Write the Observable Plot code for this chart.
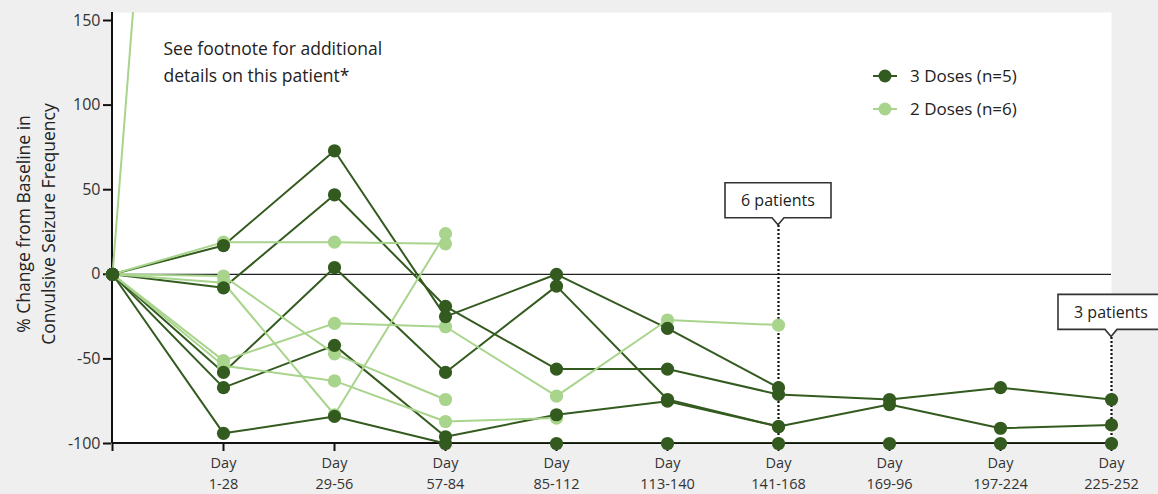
<!DOCTYPE html>
<html>
<head>
<meta charset="utf-8">
<script src="https://cdn.jsdelivr.net/npm/d3@7"></script>
<script src="https://cdn.jsdelivr.net/npm/@observablehq/plot@0.6"></script>
<style>
  html, body { margin: 0; padding: 0; background: #efefef; }
  #wrap { position: relative; width: 1158px; height: 494px; overflow: hidden; }
  #wrap svg { display: block; }
  .legend { position: absolute; left: 872px; top: 59px; font-family: "Open Sans", sans-serif; font-size: 17px; color: #222; }
  .legend .row { display: flex; align-items: center; height: 33px; }
  .legend svg { margin-right: 12px; }
</style>
</head>
<body>
<div id="wrap"></div>
<script>
// Visit windows (baseline first) and their axis labels
const days = ["Baseline", "1-28", "29-56", "57-84", "85-112", "113-140", "141-168", "169-96", "197-224", "225-252"];
const dayTickLabels = ["", "Day\n1-28", "Day\n29-56", "Day\n57-84", "Day\n85-112", "Day\n113-140", "Day\n141-168", "Day\n169-96", "Day\n197-224", "Day\n225-252"];
const yTicks = [-100, -50, 0, 50, 100, 150];

// % change from baseline per patient, one value per visit window
const threeDose1 = [0, 17, 73, -25, 0, -32, -67];
const threeDose2 = [0, -8, 47, -19, -56, -56, -71, -74, -67, -74];
const threeDose3 = [0, -58, 4, -58, -7, -74, -90];
const threeDose4 = [0, -67, -42, -96, -83, -75, -90, -77, -91, -89];
const threeDose5 = [0, -94, -84, -100, -100, -100, -100, -100, -100, -100];

const twoDose1 = [0, 19, 19, 18];
const twoDose2 = [0, -1, -47, -74];
const twoDose3 = [0, -5, -83, 24];
const twoDose4 = [0, -51, -29, -31, -72, -27, -30];
const twoDose5 = [0, -54, -63, -87, -85];
const twoDose6 = [0, 840];

const groupNames = ["3 Doses (n=5)", "2 Doses (n=6)"];
const noteText = "See footnote for additional\ndetails on this patient*";
const calloutDays = ["141-168", "225-252"];
const calloutLabels = ["6 patients", "3 patients"];
const yTitle = "% Change from Baseline in\nConvulsive Seizure Frequency";

const DARK = "#345b1f";
const LIGHT = "#a8d48c";
const FONT = "Open Sans, sans-serif";

function rowsFor(series, group) {
  return series.flatMap((vals, p) =>
    vals.map((v, i) => ({patient: group + "-" + p, group, day: days[i], value: v})));
}
const darkRows = rowsFor([threeDose1, threeDose2, threeDose3, threeDose4, threeDose5], groupNames[0]);
const lightRows = rowsFor([twoDose1, twoDose2, twoDose3, twoDose4, twoDose5, twoDose6], groupNames[1]);
const tickLabelOf = Object.fromEntries(days.map((d, i) => [d, dayTickLabels[i]]));

// levels (in % units) where the callout pointers sit
const calloutLevel = {"141-168": 29, "225-252": -37};

// Axis lines: the y axis runs the full frame height, the x axis sits at -100
function axisLines(index, scales, values, dim) {
  const g = d3.create("svg:g").attr("stroke", "#111").attr("stroke-width", 2);
  const x0 = scales.x(days[0]);
  const yb = scales.y(-100);
  g.append("line").attr("x1", x0).attr("x2", x0).attr("y1", dim.marginTop).attr("y2", yb);
  g.append("line").attr("x1", x0).attr("x2", dim.width - dim.marginRight).attr("y1", yb).attr("y2", yb);
  return g.node();
}

// Boxed callouts with a pointer notch
function callouts(index, scales, values, dim) {
  const g = d3.create("svg:g");
  calloutDays.forEach((day, i) => {
    const cx = scales.x(day), ty = scales.y(calloutLevel[day]);
    const w = 106, h = 35, n = 7, nw = 12;
    const bot = ty - n, top = bot - h;
    g.append("path")
      .attr("d", `M${cx - w / 2},${top}H${cx + w / 2}V${bot}H${cx + nw / 2}L${cx},${ty}L${cx - nw / 2},${bot}H${cx - w / 2}Z`)
      .attr("fill", "white").attr("stroke", "#333").attr("stroke-width", 1.6);
    g.append("text")
      .attr("x", cx).attr("y", (top + bot) / 2)
      .attr("text-anchor", "middle").attr("dominant-baseline", "central")
      .attr("font-family", FONT).attr("font-size", 16).attr("fill", "#222")
      .text(calloutLabels[i]);
  });
  return g.node();
}

const chart = Plot.plot({
  width: 1158,
  height: 494,
  marginLeft: 111,
  marginRight: 47,
  marginTop: 12,
  marginBottom: 51,
  insetTop: 8,
  style: {background: "transparent", fontFamily: FONT, color: "#222"},
  x: {type: "point", domain: days, padding: 0},
  y: {domain: [-100, 150]},
  marks: [
    Plot.frame({fill: "white", stroke: "none"}),
    Plot.ruleY([0], {stroke: "#222", strokeWidth: 1.2}),
    axisLines,
    Plot.ruleX(calloutDays, {x: d => d, y1: () => -100, y2: d => calloutLevel[d], stroke: "#111", strokeWidth: 2.2, strokeDasharray: "2 2"}),
    Plot.axisX({tickSize: 8, tickPadding: 2, strokeWidth: 2, stroke: "#111", fill: "#333", fontSize: 14.5, lineHeight: 1.42,
      tickFormat: d => tickLabelOf[d], label: null}),
    Plot.axisY({ticks: yTicks, tickSize: 8, tickPadding: 3, strokeWidth: 2, stroke: "#111", fill: "#333", fontSize: 16,
      tickFormat: d => String(d), label: null}),
    Plot.line(darkRows, {x: "day", y: "value", z: "patient", stroke: DARK, strokeWidth: 2, clip: true}),
    Plot.line(lightRows, {x: "day", y: "value", z: "patient", stroke: LIGHT, strokeWidth: 2, clip: true}),
    Plot.dot(lightRows.filter(d => d.value <= 150), {x: "day", y: "value", r: 6.6, fill: LIGHT}),
    Plot.dot(darkRows, {x: "day", y: "value", r: 6.6, fill: DARK}),
    callouts,
    Plot.text([noteText], {frameAnchor: "top-left", text: d => d, textAnchor: "start", lineAnchor: "top",
      dx: 52, dy: 23, fontSize: 17.5, lineHeight: 1.54, fill: "#222"}),
    Plot.text([yTitle], {frameAnchor: "left", text: d => d, rotate: -90, textAnchor: "middle", lineAnchor: "middle",
      dx: -77, dy: -4, fontSize: 17.5, lineHeight: 1.43, fill: "#222"})
  ]
});

const wrap = document.getElementById("wrap");
wrap.appendChild(chart);

// Legend
const legend = document.createElement("div");
legend.className = "legend";
[[groupNames[0], DARK], [groupNames[1], LIGHT]].forEach(([name, color]) => {
  const row = document.createElement("div");
  row.className = "row";
  const sw = d3.create("svg").attr("width", 26).attr("height", 16);
  sw.append("line").attr("x1", 1).attr("x2", 25).attr("y1", 8).attr("y2", 8).attr("stroke", color).attr("stroke-width", 2);
  sw.append("circle").attr("cx", 13).attr("cy", 8).attr("r", 6.5).attr("fill", color);
  row.appendChild(sw.node());
  const label = document.createElement("span");
  label.textContent = name;
  row.appendChild(label);
  legend.appendChild(row);
});
wrap.appendChild(legend);
</script>
</body>
</html>
